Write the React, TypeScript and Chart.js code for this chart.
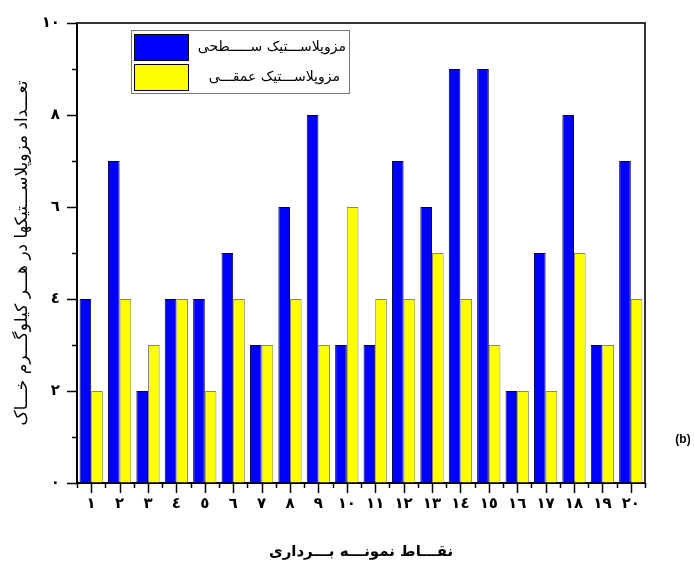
import { useEffect, useRef } from 'react';
import { Chart, registerables } from 'chart.js';

Chart.register(...registerables);

const categories = ['١', '٢', '٣', '٤', '٥', '٦', '٧', '٨', '٩', '١٠', '١١', '١٢', '١٣', '١٤', '١٥', '١٦', '١٧', '١٨', '١٩', '٢٠'];
const surfaceValues = [4, 7, 2, 4, 4, 5, 3, 6, 8, 3, 3, 7, 6, 9, 9, 2, 5, 8, 3, 7];
const deepValues = [2, 4, 3, 4, 2, 4, 3, 4, 3, 6, 4, 4, 5, 4, 3, 2, 2, 5, 3, 4];
const yTickValues = [0, 2, 4, 6, 8, 10];
const yTickLabels = ['٠', '٢', '٤', '٦', '٨', '١٠'];
const seriesNames = ['مزوپلاســـتیک ســـــطحی', 'مزوپلاســـتیک عمقـــی'];
const seriesColors = ['#0000ff', '#ffff00'];
const seriesBorders = ['#000044', '#888866'];
const xTitle = 'نقـــاط نمونـــه بـــرداری';
const yTitle = 'تعـــداد مزوپلاســـتیکها در هـــر کیلوگـــرم خـــاک';
const panelLabel = '(b)';

const FONT = '"DejaVu Sans", sans-serif';

const decorPlugin = {
  id: 'decor',
  afterDraw(chart: any) {
    const { ctx, chartArea: a, scales } = chart;
    const x = scales.x;
    const y = scales.y;
    const line = (x1: number, y1: number, x2: number, y2: number) => {
      ctx.beginPath();
      ctx.moveTo(x1, y1);
      ctx.lineTo(x2, y2);
      ctx.stroke();
    };
    ctx.save();
    // frame top/right
    ctx.strokeStyle = '#333';
    ctx.lineWidth = 2;
    ctx.beginPath();
    ctx.moveTo(a.left, a.top);
    ctx.lineTo(a.right, a.top);
    ctx.lineTo(a.right, a.bottom);
    ctx.stroke();

    // y ticks (major even, minor odd)
    ctx.strokeStyle = '#000';
    ctx.lineWidth = 1.5;
    for (let v = y.min; v <= y.max; v++) {
      const py = Math.round(y.getPixelForValue(v)) + 0.5;
      const len = v % 2 === 0 ? 10 : 5;
      line(a.left - len, py, a.left, py);
    }
    // x ticks: major at centers, minor at boundaries
    const n = categories.length;
    for (let i = 0; i < n; i++) {
      const px = Math.round(x.getPixelForValue(i)) + 0.5;
      line(px, a.bottom, px, a.bottom + 10);
    }
    for (let i = 0; i <= n; i++) {
      const px = Math.round(x.getPixelForValue(i - 0.5)) + 0.5;
      line(px, a.bottom, px, a.bottom + 5);
    }

    // legend
    const lx = 131, ly = 30, lw = 218, lh = 63;
    ctx.fillStyle = '#fff';
    ctx.fillRect(lx, ly, lw, lh);
    ctx.strokeStyle = '#777';
    ctx.lineWidth = 1;
    ctx.strokeRect(lx + 0.5, ly + 0.5, lw, lh);
    chart.data.datasets.forEach((ds: any, i: number) => {
      const sy = ly + 4 + i * 30;
      ctx.fillStyle = ds.backgroundColor;
      ctx.fillRect(lx + 3, sy, 54, 26);
      ctx.strokeStyle = '#000';
      ctx.lineWidth = 1;
      ctx.strokeRect(lx + 3.5, sy + 0.5, 54, 26);
      ctx.fillStyle = '#000';
      ctx.font = '14px ' + FONT;
      ctx.textAlign = 'right';
      ctx.textBaseline = 'middle';
      ctx.fillText(ds.label, lx + lw - 3 - i * 6, sy + 13);
    });

    // panel label
    ctx.fillStyle = '#000';
    ctx.font = 'bold 12px "Liberation Sans", Arial, sans-serif';
    ctx.textAlign = 'center';
    ctx.textBaseline = 'middle';
    ctx.fillText(panelLabel, 683, 440);
    ctx.restore();
  },
};

export default function App() {
  const ref = useRef<HTMLCanvasElement>(null);
  useEffect(() => {
    if (!ref.current) return;
    const chart = new Chart(ref.current, {
      type: 'bar',
      data: {
        labels: categories,
        datasets: [
          {
            label: seriesNames[0],
            data: surfaceValues,
            backgroundColor: seriesColors[0],
            borderColor: seriesBorders[0],
            borderWidth: 1,
          },
          {
            label: seriesNames[1],
            data: deepValues,
            backgroundColor: seriesColors[1],
            borderColor: seriesBorders[1],
            borderWidth: 1,
          },
        ],
      },
      options: {
        responsive: false,
        animation: false,
        layout: { padding: { left: 0, right: 49, top: 23, bottom: 0 } },
        plugins: { legend: { display: false }, tooltip: { enabled: false } },
        datasets: { bar: { barPercentage: 1, categoryPercentage: 0.82 } },
        scales: {
          x: {
            grid: { display: true, drawOnChartArea: false, drawTicks: false },
            border: { display: true, color: '#000', width: 2 },
            ticks: {
              padding: 12,
              color: '#000',
              font: { family: FONT, size: 15, weight: 'bold' },
              maxRotation: 0,
              autoSkip: false,
            },
            title: {
              display: true,
              text: xTitle,
              color: '#000',
              font: { family: FONT, size: 15, weight: 'bold' },
              padding: { top: 0, bottom: 6 },
            },
            afterFit(scale: any) {
              scale.height = 84;
              scale.paddingLeft = 0;
              scale.paddingRight = 0;
            },
          },
          y: {
            min: 0,
            max: 10,
            grid: { display: true, drawOnChartArea: false, drawTicks: false },
            border: { display: true, color: '#000', width: 2 },
            afterBuildTicks(scale: any) {
              scale.ticks = yTickValues.map((v) => ({ value: v }));
            },
            ticks: {
              padding: 17,
              color: '#000',
              font: { family: FONT, size: 15, weight: 'bold' },
              callback: (v: any) => yTickLabels[yTickValues.indexOf(Number(v))] ?? '',
            },
            title: {
              display: true,
              text: yTitle,
              color: '#000',
              font: { family: FONT, size: 17 },
              padding: { top: 12, bottom: 0 },
            },
            afterFit(scale: any) {
              scale.width = 77;
              scale.paddingTop = 0;
              scale.paddingBottom = 0;
            },
          },
        },
      },
      plugins: [decorPlugin],
    });
    return () => chart.destroy();
  }, []);
  return (
    <div style={{ position: 'fixed', left: 0, top: 0, width: 694, height: 567, background: '#fff' }}>
      <canvas ref={ref} width={694} height={567} style={{ display: 'block' }} />
    </div>
  );
}
